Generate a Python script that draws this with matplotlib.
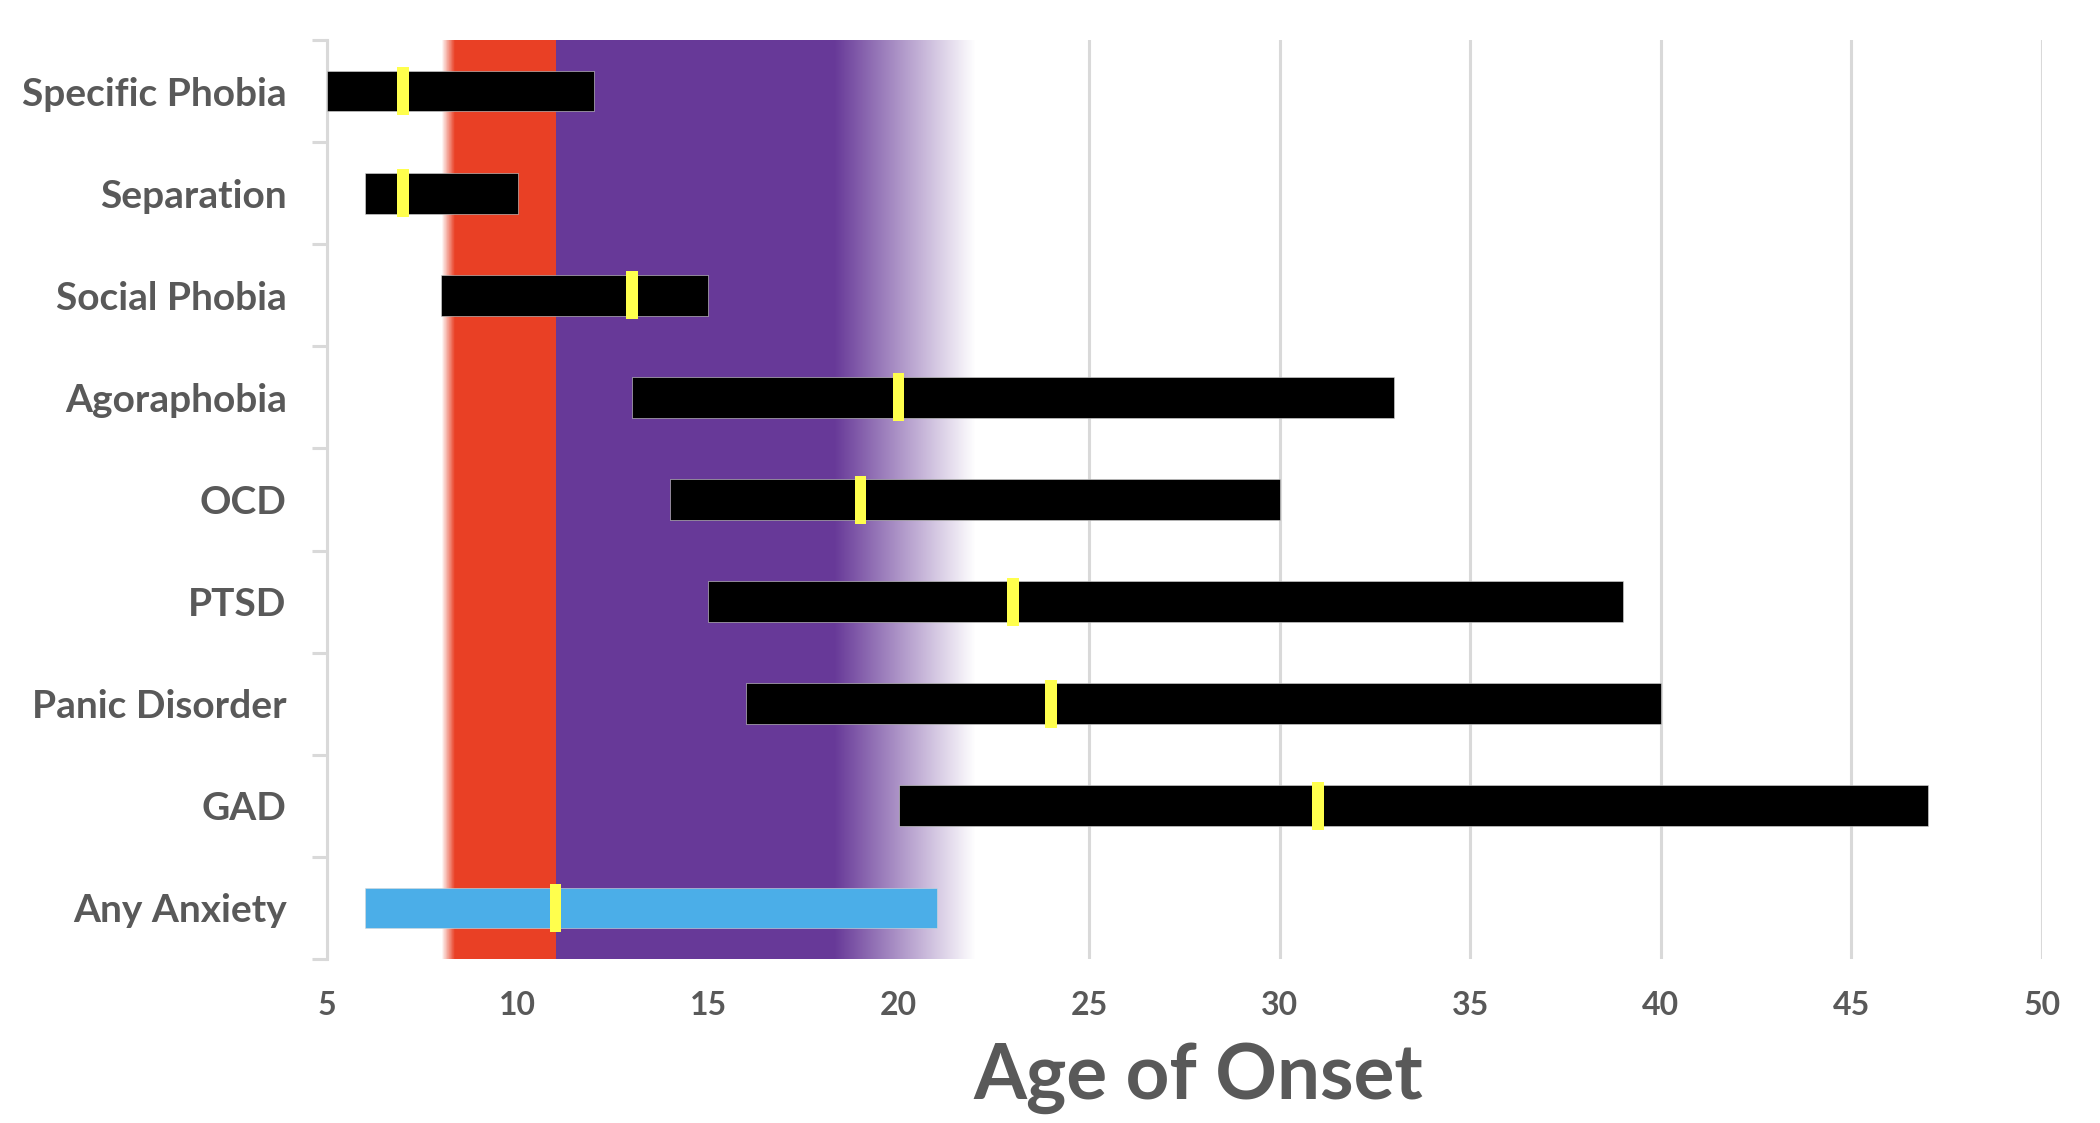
import numpy as np
import matplotlib
matplotlib.use('Agg')
import matplotlib.pyplot as plt
from matplotlib.ticker import MultipleLocator, FixedLocator

plt.rcParams['font.family'] = ['Lato', 'DejaVu Sans']

# data: age-of-onset ranges (interquartile) and medians per disorder
disorders = ['Specific Phobia', 'Separation', 'Social Phobia', 'Agoraphobia', 'OCD',
             'PTSD', 'Panic Disorder', 'GAD', 'Any Anxiety']
onset_start = [5, 6, 8, 13, 14, 15, 16, 20, 6]
onset_end = [12, 10, 15, 33, 30, 39, 40, 47, 21]
onset_median = [7, 7, 13, 20, 19, 23, 24, 31, 11]
bar_colors = ['black'] * 8 + ['#4BAEE8']

# developmental windows shaded behind the bars
childhood_start = 8
childhood_end = 11
adolescence_end = 18.3
adolescence_fade_end = 22

RED = np.array([233, 64, 37]) / 255
PURPLE = np.array([103, 57, 152]) / 255
WHITE = np.ones(3)
GRID = '#D9D9D9'
TEXT = '#595959'

fig = plt.figure(figsize=(21, 11.23), dpi=100)
ax = fig.add_axes([0.1557, 0.146, 0.9724 - 0.1557, 0.9644 - 0.146])

xmin, xmax = 5, 50
ymin, ymax = -0.5, len(disorders) - 0.5

# background gradient image (opaque inside the shaded window, blended to white)
xs = np.linspace(xmin, xmax, 4501)
img = np.zeros((1, len(xs), 4))
for i, x in enumerate(xs):
    if childhood_start <= x < childhood_end:
        a = min(1.0, (x - childhood_start) / 0.35)
        img[0, i, :3] = a * RED + (1 - a) * WHITE
        img[0, i, 3] = 1
    elif childhood_end <= x < adolescence_fade_end:
        if x < adolescence_end:
            a = 1.0
        else:
            a = 1 - (x - adolescence_end) / (adolescence_fade_end - adolescence_end)
        img[0, i, :3] = a * PURPLE + (1 - a) * WHITE
        img[0, i, 3] = 1
ax.imshow(img, extent=[xmin, xmax, ymin, ymax], aspect='auto',
          interpolation='nearest', zorder=1)

y = np.arange(len(disorders))
ax.barh(y, np.array(onset_end) - np.array(onset_start), left=onset_start,
        height=0.4, color=bar_colors, edgecolor=GRID, linewidth=0.4, zorder=3)
ax.barh(y, 0.3, left=np.array(onset_median) - 0.15, height=0.47,
        color='#FFFF4D', edgecolor='none', zorder=4)

ax.set_xlim(xmin, xmax)
ax.set_ylim(ymax, ymin)

ax.xaxis.set_major_locator(MultipleLocator(5))
ax.grid(axis='x', color=GRID, linewidth=2.2, zorder=0)
ax.set_axisbelow(True)

ax.set_yticks(y)
ax.set_yticklabels(disorders)
ax.yaxis.set_minor_locator(FixedLocator(np.arange(len(disorders) + 1) - 0.5))
ax.tick_params(axis='y', which='major', length=0, pad=29, labelsize=28,
               labelcolor=TEXT)
ax.tick_params(axis='y', which='minor', length=11, width=2.2, color=GRID)
ax.tick_params(axis='x', length=0, pad=23, labelsize=23, labelcolor=TEXT)
for lab in ax.get_yticklabels() + ax.get_xticklabels():
    lab.set_fontweight('bold')

for side in ['top', 'right', 'bottom']:
    ax.spines[side].set_visible(False)
ax.spines['left'].set_color(GRID)
ax.spines['left'].set_linewidth(2.2)

ax.set_xlabel('Age of Onset', fontsize=55, fontweight='bold', color=TEXT, labelpad=16)
ax.xaxis.label.set_x(0.508)

fig.savefig('out.png', dpi=100)
